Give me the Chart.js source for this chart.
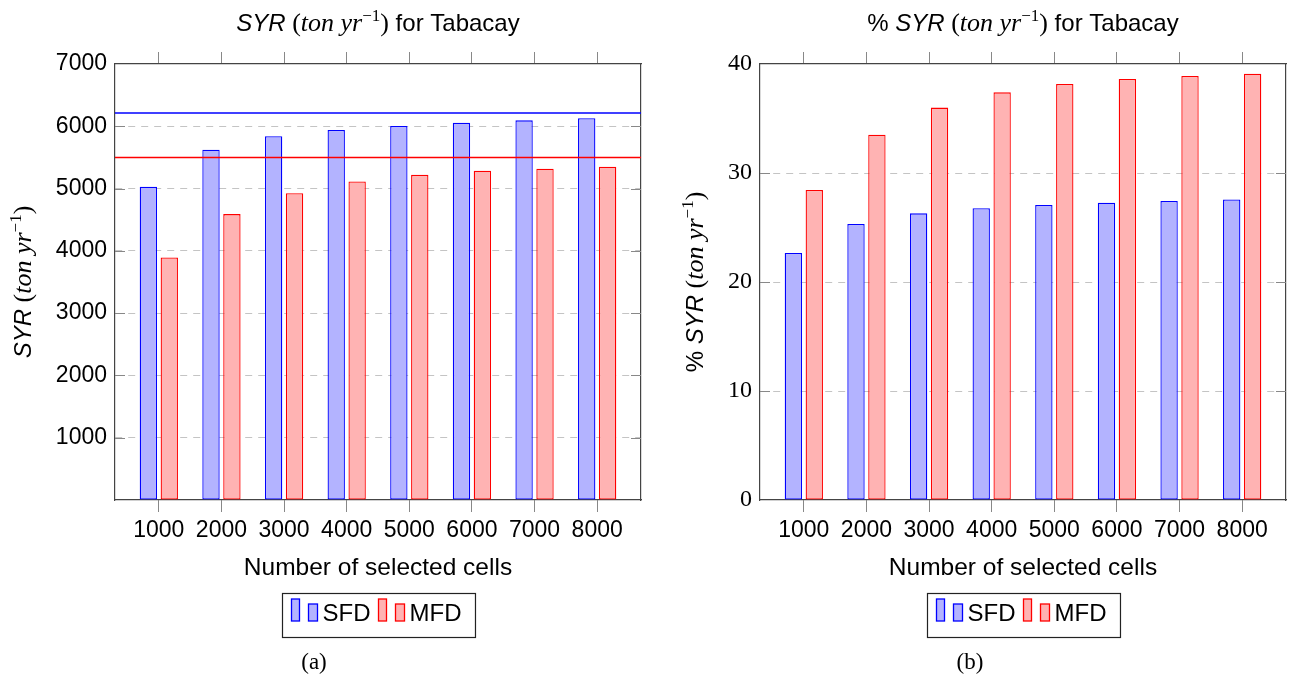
<!DOCTYPE html>
<html>
<head>
<meta charset="utf-8">
<script src="https://cdn.jsdelivr.net/npm/chart.js@4.4.1/dist/chart.umd.min.js"></script>
<style>
  html, body { margin: 0; padding: 0; background: #fff; }
  #wrap { position: relative; width: 1290px; height: 684px; }
  canvas { position: absolute; top: 0; }
</style>
</head>
<body>
<div id="wrap">
  <canvas id="left" width="645" height="684" style="left:0"></canvas>
  <canvas id="right" width="645" height="684" style="left:645px"></canvas>
</div>
<script>
// values
const cells = [1000, 2000, 3000, 4000, 5000, 6000, 7000, 8000];
const syrSFD = [5030, 5625, 5840, 5940, 6005, 6055, 6095, 6130];
const syrMFD = [3895, 4590, 4925, 5115, 5220, 5285, 5320, 5350];
const refSFD = 6215;
const refMFD = 5500;
const pctSFD = [22.66, 25.32, 26.30, 26.76, 27.06, 27.28, 27.43, 27.58];
const pctMFD = [28.44, 33.52, 36.00, 37.40, 38.17, 38.62, 38.90, 39.11];
const syrTicks = [0, 1000, 2000, 3000, 4000, 5000, 6000, 7000];
const pctTicks = [0, 10, 20, 30, 40];

const X_MIN = 300, X_MAX = 8700;
const SANS = '"Liberation Sans", Arial, sans-serif';
const SERIF = '"Liberation Serif", "Times New Roman", serif';
const BLUE = '#0000ff', BLUE_FILL = '#b3b3ff';
const RED = '#ff0000', RED_FILL = '#ffb3b3';

const unitParts = (pct) => [
  ...(pct ? [{ t: '% ', f: `24px ${SANS}` }] : []),
  { t: 'SYR', f: `italic 24px ${SANS}` },
  { t: ' (', f: `26px ${SERIF}` },
  { t: 'ton yr', f: `italic 26px ${SERIF}` },
  { t: '\u22121', f: `17px ${SERIF}`, dy: -10 },
  { t: ')', f: `26px ${SERIF}` },
];

function drawRich(ctx, parts, cx, cy, rot) {
  ctx.save();
  ctx.translate(cx, cy);
  if (rot) ctx.rotate(rot);
  ctx.textBaseline = 'alphabetic';
  ctx.textAlign = 'left';
  ctx.fillStyle = '#000';
  let total = 0;
  parts.forEach(p => { ctx.font = p.f; p.w = ctx.measureText(p.t).width; total += p.w; });
  let x = -total / 2;
  parts.forEach(p => { ctx.font = p.f; ctx.fillText(p.t, x, p.dy || 0); x += p.w; });
  ctx.restore();
}

const deco = {
  id: 'deco',
  beforeDatasetsDraw(chart, args, o) {
    // short solid ticks inside the frame on both sides
    const { ctx, chartArea: a } = chart;
    const ys = chart.scales.y;
    ctx.save();
    ctx.strokeStyle = '#888';
    ctx.lineWidth = 1;
    ys.ticks.forEach((t, i) => {
      if (t.value === ys.min || t.value === ys.max) return;
      const y = Math.round(ys.getPixelForTick(i)) + 0.5;
      ctx.beginPath();
      ctx.moveTo(a.left, y); ctx.lineTo(a.left + 10, y);
      ctx.moveTo(a.right - 10, y); ctx.lineTo(a.right, y);
      ctx.stroke();
    });
    ctx.restore();
  },
  afterDraw(chart, args, o) {
    const { ctx, chartArea: a } = chart;
    const cx = (a.left + a.right) / 2;
    const cy = (a.top + a.bottom) / 2;
    drawRich(ctx, [...unitParts(o.pct), { t: ' for Tabacay', f: `24px ${SANS}` }], cx, 31);
    drawRich(ctx, unitParts(o.pct), o.yTitleX, cy, -Math.PI / 2);
    drawRich(ctx, [{ t: 'Number of selected cells', f: `24.5px ${SANS}` }], cx, 575);

    // legend box
    const font = `24px ${SANS}`;
    ctx.save();
    ctx.font = font;
    const sets = chart.data.datasets.filter(d => d.type === 'bar');
    let w = 9;
    sets.forEach((d, i) => { w += 31 + ctx.measureText(d.label).width + (i < sets.length - 1 ? 8 : 14); });
    const top = 593, h = 44;
    const left = Math.round(cx - w / 2) + 0.5;
    ctx.strokeStyle = '#222';
    ctx.lineWidth = 1.2;
    ctx.strokeRect(left, top + 0.5, w, h);
    let x = left + 9;
    const base = top + 28;
    sets.forEach((d, i) => {
      ctx.fillStyle = d.backgroundColor;
      ctx.strokeStyle = d.borderColor;
      ctx.lineWidth = 1.3;
      ctx.fillRect(x, base - 22, 8, 22); ctx.strokeRect(x, base - 22, 8, 22);
      ctx.fillRect(x + 17, base - 17, 9, 17); ctx.strokeRect(x + 17, base - 17, 9, 17);
      ctx.fillStyle = '#000';
      ctx.textBaseline = 'alphabetic';
      ctx.fillText(d.label, x + 31, base);
      x += 31 + ctx.measureText(d.label).width + 8;
    });
    ctx.restore();

    drawRich(ctx, [{ t: o.caption, f: `23px ${SERIF}` }], o.captionX, 669);
  }
};

function makeChart(id, sfd, mfd, yTicks, yFont, refs, decoOpts) {
  const yMax = yTicks[yTicks.length - 1];
  const datasets = [
    { type: 'bar', label: 'SFD', data: cells.map((c, i) => ({ x: c, y: sfd[i] })),
      backgroundColor: BLUE_FILL, borderColor: BLUE, borderWidth: 1.3, borderSkipped: false,
      categoryPercentage: 0.668, barPercentage: 0.83, order: 2 },
    { type: 'bar', label: 'MFD', data: cells.map((c, i) => ({ x: c, y: mfd[i] })),
      backgroundColor: RED_FILL, borderColor: RED, borderWidth: 1.3, borderSkipped: false,
      categoryPercentage: 0.668, barPercentage: 0.83, order: 2 },
  ];
  refs.forEach(r => datasets.push({
    type: 'line', label: r.label, data: [{ x: X_MIN, y: r.value }, { x: X_MAX, y: r.value }],
    borderColor: r.color, borderWidth: 1.5, pointRadius: 0, order: 0
  }));
  const setX = s => { s.ticks = cells.map(v => ({ value: v })); };
  const setY = s => { s.ticks = yTicks.map(v => ({ value: v })); };
  return new Chart(document.getElementById(id), {
    type: 'bar',
    data: { datasets },
    plugins: [deco],
    options: {
      responsive: false,
      animation: false,
      events: [],
      devicePixelRatio: 1,
      layout: { padding: { left: 0, right: 4, top: 64, bottom: 0 } },
      plugins: { legend: { display: false }, tooltip: { enabled: false }, deco: decoOpts },
      scales: {
        x: {
          type: 'linear', position: 'bottom', min: X_MIN, max: X_MAX, offset: false,
          afterBuildTicks: setX,
          afterFit: s => { s.height = 184; },
          grid: { drawOnChartArea: false, offset: false, tickLength: 12, tickColor: '#888', tickWidth: 1 },
          border: { color: '#444', width: 1.2 },
          ticks: { font: { family: SANS, size: 23 }, color: '#000', padding: 5, maxRotation: 0, autoSkip: false,
                   callback: v => String(v) }
        },
        x2: {
          type: 'linear', position: 'top', min: X_MIN, max: X_MAX, offset: false,
          afterBuildTicks: setX,
          afterFit: s => { s.height = 0; },
          grid: { drawOnChartArea: false, offset: false, tickLength: 12, tickColor: '#888', tickWidth: 1 },
          border: { color: '#444', width: 1.2 },
          ticks: { display: false }
        },
        y: {
          type: 'linear', position: 'left', min: 0, max: yMax,
          afterBuildTicks: setY,
          afterFit: s => { s.width = 115; },
          grid: {
            drawTicks: false, lineWidth: 1, tickBorderDash: [],
            color: c => (c.tick && (c.tick.value === 0 || c.tick.value === yMax)) ? 'rgba(0,0,0,0)' : '#c4c4c4'
          },
          border: { color: '#444', width: 1.2, dash: [7, 6] },
          ticks: { font: yFont, color: '#000', padding: 8,
                   callback: v => (decoOpts.pct || v !== 0) ? String(v) : '' }
        },
        y2: {
          type: 'linear', position: 'right', min: 0, max: yMax,
          afterBuildTicks: setY,
          afterFit: s => { s.width = 0; },
          grid: { drawOnChartArea: false, drawTicks: false },
          border: { color: '#444', width: 1.2 },
          ticks: { display: false }
        }
      }
    }
  });
}

makeChart('left', syrSFD, syrMFD, syrTicks, { family: SANS, size: 23 },
  [{ label: 'SFD ref', value: refSFD, color: BLUE }, { label: 'MFD ref', value: refMFD, color: RED }],
  { pct: false, yTitleX: 31, caption: '(a)', captionX: 314 });

makeChart('right', pctSFD, pctMFD, pctTicks, { family: SERIF, size: 24 }, [],
  { pct: true, yTitleX: 58, caption: '(b)', captionX: 325 });
</script>
</body>
</html>
